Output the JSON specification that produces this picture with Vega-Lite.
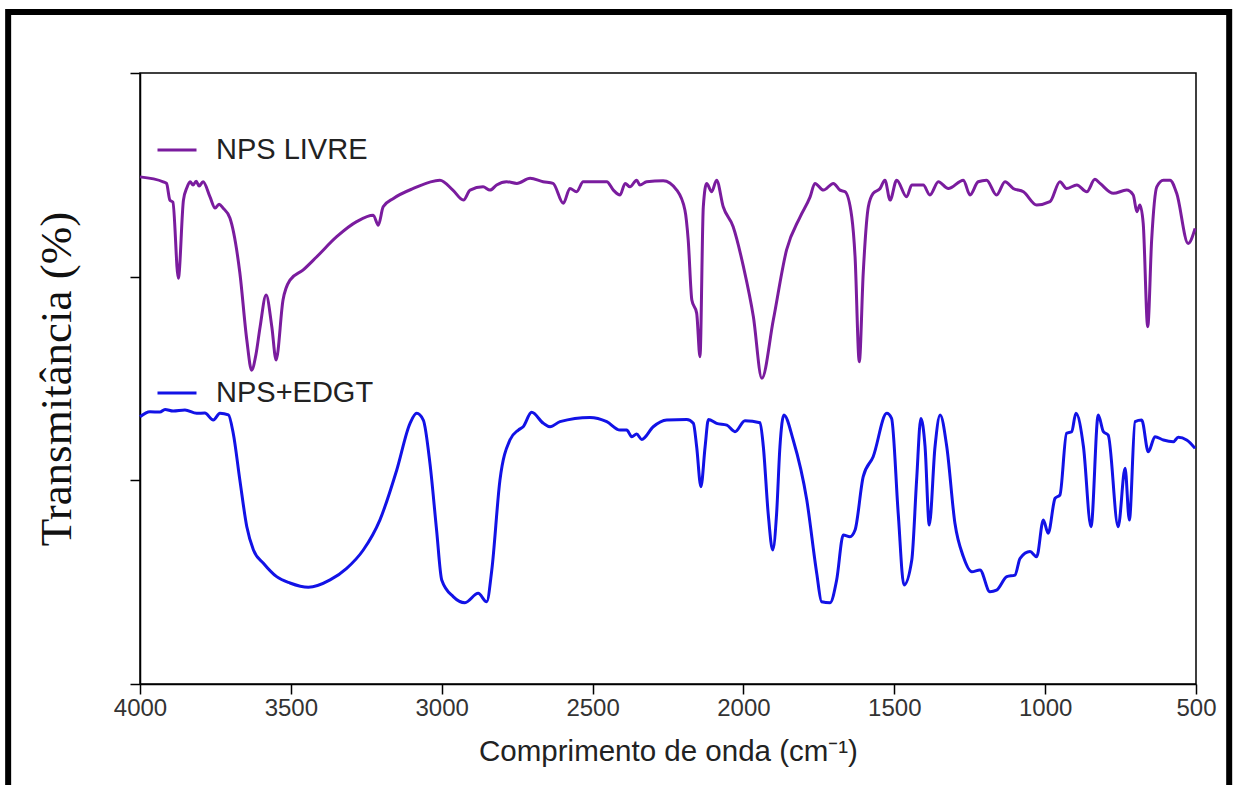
{
  "$schema": "https://vega.github.io/schema/vega-lite/v6.json",
  "width": 1056,
  "height": 611,
  "autosize": {"type": "none"},
  "padding": {"left": 140, "top": 73, "right": 39, "bottom": 101},
  "background": "white",
  "config": {
    "view": {"stroke": "black", "strokeWidth": 1.5},
    "axis": {"domainColor": "black", "domainWidth": 1.5, "tickColor": "black", "tickWidth": 1.5, "grid": false}
  },
  "layer": [
    {
      "data": {"values": [{}]},
      "mark": {"type": "rect", "fillOpacity": 0, "stroke": "black", "strokeWidth": 6, "clip": false},
      "encoding": {
        "x": {"datum": 4437, "type": "quantitative"},
        "x2": {"datum": 390},
        "y": {"datum": 3.30, "type": "quantitative"},
        "y2": {"datum": -0.55}
      }
    },
    {
      "data": {
        "values": [
          {"series": "NPS LIVRE", "wn": 4000, "T": 2.490},
          {"series": "NPS LIVRE", "wn": 3923, "T": 2.466},
          {"series": "NPS LIVRE", "wn": 3912, "T": 2.458},
          {"series": "NPS LIVRE", "wn": 3901, "T": 2.376},
          {"series": "NPS LIVRE", "wn": 3891, "T": 2.366},
          {"series": "NPS LIVRE", "wn": 3873, "T": 1.992},
          {"series": "NPS LIVRE", "wn": 3856, "T": 2.376},
          {"series": "NPS LIVRE", "wn": 3845, "T": 2.435},
          {"series": "NPS LIVRE", "wn": 3834, "T": 2.466},
          {"series": "NPS LIVRE", "wn": 3824, "T": 2.450},
          {"series": "NPS LIVRE", "wn": 3814, "T": 2.469},
          {"series": "NPS LIVRE", "wn": 3804, "T": 2.445},
          {"series": "NPS LIVRE", "wn": 3791, "T": 2.466},
          {"series": "NPS LIVRE", "wn": 3768, "T": 2.392},
          {"series": "NPS LIVRE", "wn": 3751, "T": 2.337},
          {"series": "NPS LIVRE", "wn": 3738, "T": 2.356},
          {"series": "NPS LIVRE", "wn": 3725, "T": 2.337},
          {"series": "NPS LIVRE", "wn": 3702, "T": 2.288},
          {"series": "NPS LIVRE", "wn": 3669, "T": 2.018},
          {"series": "NPS LIVRE", "wn": 3646, "T": 1.689},
          {"series": "NPS LIVRE", "wn": 3630, "T": 1.541},
          {"series": "NPS LIVRE", "wn": 3616, "T": 1.615},
          {"series": "NPS LIVRE", "wn": 3602, "T": 1.753},
          {"series": "NPS LIVRE", "wn": 3582, "T": 1.910},
          {"series": "NPS LIVRE", "wn": 3563, "T": 1.753},
          {"series": "NPS LIVRE", "wn": 3549, "T": 1.591},
          {"series": "NPS LIVRE", "wn": 3526, "T": 1.885},
          {"series": "NPS LIVRE", "wn": 3503, "T": 1.983},
          {"series": "NPS LIVRE", "wn": 3460, "T": 2.032},
          {"series": "NPS LIVRE", "wn": 3414, "T": 2.098},
          {"series": "NPS LIVRE", "wn": 3348, "T": 2.196},
          {"series": "NPS LIVRE", "wn": 3282, "T": 2.270},
          {"series": "NPS LIVRE", "wn": 3227, "T": 2.302},
          {"series": "NPS LIVRE", "wn": 3210, "T": 2.253},
          {"series": "NPS LIVRE", "wn": 3194, "T": 2.343},
          {"series": "NPS LIVRE", "wn": 3160, "T": 2.384},
          {"series": "NPS LIVRE", "wn": 3094, "T": 2.433},
          {"series": "NPS LIVRE", "wn": 3006, "T": 2.474},
          {"series": "NPS LIVRE", "wn": 2963, "T": 2.425},
          {"series": "NPS LIVRE", "wn": 2928, "T": 2.376},
          {"series": "NPS LIVRE", "wn": 2906, "T": 2.425},
          {"series": "NPS LIVRE", "wn": 2863, "T": 2.441},
          {"series": "NPS LIVRE", "wn": 2840, "T": 2.425},
          {"series": "NPS LIVRE", "wn": 2818, "T": 2.450},
          {"series": "NPS LIVRE", "wn": 2785, "T": 2.466},
          {"series": "NPS LIVRE", "wn": 2751, "T": 2.458},
          {"series": "NPS LIVRE", "wn": 2707, "T": 2.483},
          {"series": "NPS LIVRE", "wn": 2664, "T": 2.466},
          {"series": "NPS LIVRE", "wn": 2631, "T": 2.458},
          {"series": "NPS LIVRE", "wn": 2597, "T": 2.360},
          {"series": "NPS LIVRE", "wn": 2575, "T": 2.433},
          {"series": "NPS LIVRE", "wn": 2553, "T": 2.417},
          {"series": "NPS LIVRE", "wn": 2531, "T": 2.466},
          {"series": "NPS LIVRE", "wn": 2453, "T": 2.466},
          {"series": "NPS LIVRE", "wn": 2431, "T": 2.425},
          {"series": "NPS LIVRE", "wn": 2409, "T": 2.401},
          {"series": "NPS LIVRE", "wn": 2392, "T": 2.458},
          {"series": "NPS LIVRE", "wn": 2376, "T": 2.441},
          {"series": "NPS LIVRE", "wn": 2354, "T": 2.474},
          {"series": "NPS LIVRE", "wn": 2343, "T": 2.450},
          {"series": "NPS LIVRE", "wn": 2321, "T": 2.466},
          {"series": "NPS LIVRE", "wn": 2266, "T": 2.471},
          {"series": "NPS LIVRE", "wn": 2221, "T": 2.425},
          {"series": "NPS LIVRE", "wn": 2194, "T": 2.327},
          {"series": "NPS LIVRE", "wn": 2183, "T": 2.180},
          {"series": "NPS LIVRE", "wn": 2171, "T": 1.885},
          {"series": "NPS LIVRE", "wn": 2155, "T": 1.821},
          {"series": "NPS LIVRE", "wn": 2144, "T": 1.607},
          {"series": "NPS LIVRE", "wn": 2133, "T": 2.343},
          {"series": "NPS LIVRE", "wn": 2122, "T": 2.458},
          {"series": "NPS LIVRE", "wn": 2105, "T": 2.417},
          {"series": "NPS LIVRE", "wn": 2089, "T": 2.474},
          {"series": "NPS LIVRE", "wn": 2067, "T": 2.343},
          {"series": "NPS LIVRE", "wn": 2034, "T": 2.245},
          {"series": "NPS LIVRE", "wn": 2000, "T": 2.049},
          {"series": "NPS LIVRE", "wn": 1967, "T": 1.803},
          {"series": "NPS LIVRE", "wn": 1939, "T": 1.501},
          {"series": "NPS LIVRE", "wn": 1901, "T": 1.787},
          {"series": "NPS LIVRE", "wn": 1857, "T": 2.131},
          {"series": "NPS LIVRE", "wn": 1812, "T": 2.294},
          {"series": "NPS LIVRE", "wn": 1779, "T": 2.392},
          {"series": "NPS LIVRE", "wn": 1763, "T": 2.458},
          {"series": "NPS LIVRE", "wn": 1735, "T": 2.425},
          {"series": "NPS LIVRE", "wn": 1702, "T": 2.458},
          {"series": "NPS LIVRE", "wn": 1680, "T": 2.425},
          {"series": "NPS LIVRE", "wn": 1663, "T": 2.417},
          {"series": "NPS LIVRE", "wn": 1641, "T": 2.294},
          {"series": "NPS LIVRE", "wn": 1630, "T": 2.098},
          {"series": "NPS LIVRE", "wn": 1616, "T": 1.582},
          {"series": "NPS LIVRE", "wn": 1603, "T": 2.016},
          {"series": "NPS LIVRE", "wn": 1586, "T": 2.343},
          {"series": "NPS LIVRE", "wn": 1570, "T": 2.409},
          {"series": "NPS LIVRE", "wn": 1547, "T": 2.433},
          {"series": "NPS LIVRE", "wn": 1531, "T": 2.474},
          {"series": "NPS LIVRE", "wn": 1514, "T": 2.376},
          {"series": "NPS LIVRE", "wn": 1492, "T": 2.474},
          {"series": "NPS LIVRE", "wn": 1459, "T": 2.392},
          {"series": "NPS LIVRE", "wn": 1442, "T": 2.450},
          {"series": "NPS LIVRE", "wn": 1404, "T": 2.450},
          {"series": "NPS LIVRE", "wn": 1382, "T": 2.401},
          {"series": "NPS LIVRE", "wn": 1354, "T": 2.466},
          {"series": "NPS LIVRE", "wn": 1321, "T": 2.433},
          {"series": "NPS LIVRE", "wn": 1271, "T": 2.474},
          {"series": "NPS LIVRE", "wn": 1249, "T": 2.401},
          {"series": "NPS LIVRE", "wn": 1222, "T": 2.466},
          {"series": "NPS LIVRE", "wn": 1194, "T": 2.474},
          {"series": "NPS LIVRE", "wn": 1161, "T": 2.401},
          {"series": "NPS LIVRE", "wn": 1133, "T": 2.466},
          {"series": "NPS LIVRE", "wn": 1106, "T": 2.433},
          {"series": "NPS LIVRE", "wn": 1072, "T": 2.417},
          {"series": "NPS LIVRE", "wn": 1028, "T": 2.352},
          {"series": "NPS LIVRE", "wn": 984, "T": 2.368},
          {"series": "NPS LIVRE", "wn": 951, "T": 2.466},
          {"series": "NPS LIVRE", "wn": 929, "T": 2.433},
          {"series": "NPS LIVRE", "wn": 895, "T": 2.450},
          {"series": "NPS LIVRE", "wn": 862, "T": 2.417},
          {"series": "NPS LIVRE", "wn": 835, "T": 2.478},
          {"series": "NPS LIVRE", "wn": 818, "T": 2.458},
          {"series": "NPS LIVRE", "wn": 774, "T": 2.409},
          {"series": "NPS LIVRE", "wn": 730, "T": 2.425},
          {"series": "NPS LIVRE", "wn": 708, "T": 2.401},
          {"series": "NPS LIVRE", "wn": 696, "T": 2.319},
          {"series": "NPS LIVRE", "wn": 686, "T": 2.352},
          {"series": "NPS LIVRE", "wn": 675, "T": 2.262},
          {"series": "NPS LIVRE", "wn": 660, "T": 1.754},
          {"series": "NPS LIVRE", "wn": 647, "T": 2.180},
          {"series": "NPS LIVRE", "wn": 630, "T": 2.441},
          {"series": "NPS LIVRE", "wn": 608, "T": 2.474},
          {"series": "NPS LIVRE", "wn": 586, "T": 2.474},
          {"series": "NPS LIVRE", "wn": 564, "T": 2.409},
          {"series": "NPS LIVRE", "wn": 526, "T": 2.163},
          {"series": "NPS LIVRE", "wn": 503, "T": 2.237},

          {"series": "NPS+EDGT", "wn": 4000, "T": 1.312},
          {"series": "NPS+EDGT", "wn": 3967, "T": 1.337},
          {"series": "NPS+EDGT", "wn": 3934, "T": 1.335},
          {"series": "NPS+EDGT", "wn": 3917, "T": 1.348},
          {"series": "NPS+EDGT", "wn": 3890, "T": 1.340},
          {"series": "NPS+EDGT", "wn": 3851, "T": 1.345},
          {"series": "NPS+EDGT", "wn": 3812, "T": 1.329},
          {"series": "NPS+EDGT", "wn": 3785, "T": 1.330},
          {"series": "NPS+EDGT", "wn": 3757, "T": 1.296},
          {"series": "NPS+EDGT", "wn": 3735, "T": 1.329},
          {"series": "NPS+EDGT", "wn": 3707, "T": 1.321},
          {"series": "NPS+EDGT", "wn": 3691, "T": 1.231},
          {"series": "NPS+EDGT", "wn": 3669, "T": 1.001},
          {"series": "NPS+EDGT", "wn": 3646, "T": 0.772},
          {"series": "NPS+EDGT", "wn": 3624, "T": 0.658},
          {"series": "NPS+EDGT", "wn": 3591, "T": 0.593},
          {"series": "NPS+EDGT", "wn": 3547, "T": 0.527},
          {"series": "NPS+EDGT", "wn": 3503, "T": 0.496},
          {"series": "NPS+EDGT", "wn": 3442, "T": 0.475},
          {"series": "NPS+EDGT", "wn": 3370, "T": 0.511},
          {"series": "NPS+EDGT", "wn": 3315, "T": 0.568},
          {"series": "NPS+EDGT", "wn": 3260, "T": 0.658},
          {"series": "NPS+EDGT", "wn": 3205, "T": 0.805},
          {"series": "NPS+EDGT", "wn": 3149, "T": 1.051},
          {"series": "NPS+EDGT", "wn": 3105, "T": 1.280},
          {"series": "NPS+EDGT", "wn": 3083, "T": 1.329},
          {"series": "NPS+EDGT", "wn": 3061, "T": 1.296},
          {"series": "NPS+EDGT", "wn": 3039, "T": 1.083},
          {"series": "NPS+EDGT", "wn": 3017, "T": 0.756},
          {"series": "NPS+EDGT", "wn": 3000, "T": 0.511},
          {"series": "NPS+EDGT", "wn": 2962, "T": 0.429},
          {"series": "NPS+EDGT", "wn": 2923, "T": 0.399},
          {"series": "NPS+EDGT", "wn": 2879, "T": 0.445},
          {"series": "NPS+EDGT", "wn": 2851, "T": 0.404},
          {"series": "NPS+EDGT", "wn": 2834, "T": 0.560},
          {"series": "NPS+EDGT", "wn": 2807, "T": 1.001},
          {"series": "NPS+EDGT", "wn": 2774, "T": 1.198},
          {"series": "NPS+EDGT", "wn": 2746, "T": 1.247},
          {"series": "NPS+EDGT", "wn": 2730, "T": 1.263},
          {"series": "NPS+EDGT", "wn": 2702, "T": 1.334},
          {"series": "NPS+EDGT", "wn": 2663, "T": 1.280},
          {"series": "NPS+EDGT", "wn": 2641, "T": 1.263},
          {"series": "NPS+EDGT", "wn": 2608, "T": 1.288},
          {"series": "NPS+EDGT", "wn": 2509, "T": 1.309},
          {"series": "NPS+EDGT", "wn": 2453, "T": 1.288},
          {"series": "NPS+EDGT", "wn": 2409, "T": 1.247},
          {"series": "NPS+EDGT", "wn": 2387, "T": 1.247},
          {"series": "NPS+EDGT", "wn": 2370, "T": 1.214},
          {"series": "NPS+EDGT", "wn": 2354, "T": 1.227},
          {"series": "NPS+EDGT", "wn": 2337, "T": 1.201},
          {"series": "NPS+EDGT", "wn": 2299, "T": 1.263},
          {"series": "NPS+EDGT", "wn": 2254, "T": 1.296},
          {"series": "NPS+EDGT", "wn": 2188, "T": 1.299},
          {"series": "NPS+EDGT", "wn": 2166, "T": 1.280},
          {"series": "NPS+EDGT", "wn": 2155, "T": 1.165},
          {"series": "NPS+EDGT", "wn": 2141, "T": 0.969},
          {"series": "NPS+EDGT", "wn": 2127, "T": 1.165},
          {"series": "NPS+EDGT", "wn": 2116, "T": 1.299},
          {"series": "NPS+EDGT", "wn": 2089, "T": 1.280},
          {"series": "NPS+EDGT", "wn": 2055, "T": 1.271},
          {"series": "NPS+EDGT", "wn": 2028, "T": 1.239},
          {"series": "NPS+EDGT", "wn": 1995, "T": 1.293},
          {"series": "NPS+EDGT", "wn": 1945, "T": 1.283},
          {"series": "NPS+EDGT", "wn": 1934, "T": 1.165},
          {"series": "NPS+EDGT", "wn": 1918, "T": 0.838},
          {"series": "NPS+EDGT", "wn": 1903, "T": 0.658},
          {"series": "NPS+EDGT", "wn": 1890, "T": 0.838},
          {"series": "NPS+EDGT", "wn": 1879, "T": 1.165},
          {"series": "NPS+EDGT", "wn": 1866, "T": 1.321},
          {"series": "NPS+EDGT", "wn": 1835, "T": 1.198},
          {"series": "NPS+EDGT", "wn": 1790, "T": 0.903},
          {"series": "NPS+EDGT", "wn": 1757, "T": 0.543},
          {"series": "NPS+EDGT", "wn": 1741, "T": 0.404},
          {"series": "NPS+EDGT", "wn": 1713, "T": 0.399},
          {"series": "NPS+EDGT", "wn": 1691, "T": 0.511},
          {"series": "NPS+EDGT", "wn": 1669, "T": 0.731},
          {"series": "NPS+EDGT", "wn": 1647, "T": 0.723},
          {"series": "NPS+EDGT", "wn": 1630, "T": 0.756},
          {"series": "NPS+EDGT", "wn": 1603, "T": 1.018},
          {"series": "NPS+EDGT", "wn": 1570, "T": 1.116},
          {"series": "NPS+EDGT", "wn": 1525, "T": 1.329},
          {"series": "NPS+EDGT", "wn": 1509, "T": 1.304},
          {"series": "NPS+EDGT", "wn": 1487, "T": 0.838},
          {"series": "NPS+EDGT", "wn": 1468, "T": 0.486},
          {"series": "NPS+EDGT", "wn": 1442, "T": 0.609},
          {"series": "NPS+EDGT", "wn": 1426, "T": 1.001},
          {"series": "NPS+EDGT", "wn": 1412, "T": 1.304},
          {"series": "NPS+EDGT", "wn": 1398, "T": 1.165},
          {"series": "NPS+EDGT", "wn": 1384, "T": 0.781},
          {"series": "NPS+EDGT", "wn": 1365, "T": 1.165},
          {"series": "NPS+EDGT", "wn": 1348, "T": 1.321},
          {"series": "NPS+EDGT", "wn": 1326, "T": 1.165},
          {"series": "NPS+EDGT", "wn": 1299, "T": 0.789},
          {"series": "NPS+EDGT", "wn": 1271, "T": 0.625},
          {"series": "NPS+EDGT", "wn": 1243, "T": 0.551},
          {"series": "NPS+EDGT", "wn": 1216, "T": 0.560},
          {"series": "NPS+EDGT", "wn": 1183, "T": 0.453},
          {"series": "NPS+EDGT", "wn": 1161, "T": 0.461},
          {"series": "NPS+EDGT", "wn": 1127, "T": 0.527},
          {"series": "NPS+EDGT", "wn": 1100, "T": 0.535},
          {"series": "NPS+EDGT", "wn": 1083, "T": 0.617},
          {"series": "NPS+EDGT", "wn": 1050, "T": 0.650},
          {"series": "NPS+EDGT", "wn": 1028, "T": 0.625},
          {"series": "NPS+EDGT", "wn": 1006, "T": 0.805},
          {"series": "NPS+EDGT", "wn": 990, "T": 0.740},
          {"series": "NPS+EDGT", "wn": 967, "T": 0.912},
          {"series": "NPS+EDGT", "wn": 951, "T": 0.928},
          {"series": "NPS+EDGT", "wn": 929, "T": 1.231},
          {"series": "NPS+EDGT", "wn": 912, "T": 1.239},
          {"series": "NPS+EDGT", "wn": 898, "T": 1.329},
          {"series": "NPS+EDGT", "wn": 873, "T": 1.165},
          {"series": "NPS+EDGT", "wn": 848, "T": 0.772},
          {"series": "NPS+EDGT", "wn": 824, "T": 1.321},
          {"series": "NPS+EDGT", "wn": 807, "T": 1.239},
          {"series": "NPS+EDGT", "wn": 791, "T": 1.222},
          {"series": "NPS+EDGT", "wn": 758, "T": 0.772},
          {"series": "NPS+EDGT", "wn": 735, "T": 1.059},
          {"series": "NPS+EDGT", "wn": 721, "T": 0.805},
          {"series": "NPS+EDGT", "wn": 702, "T": 1.288},
          {"series": "NPS+EDGT", "wn": 680, "T": 1.296},
          {"series": "NPS+EDGT", "wn": 658, "T": 1.140},
          {"series": "NPS+EDGT", "wn": 636, "T": 1.214},
          {"series": "NPS+EDGT", "wn": 608, "T": 1.198},
          {"series": "NPS+EDGT", "wn": 575, "T": 1.190},
          {"series": "NPS+EDGT", "wn": 559, "T": 1.211},
          {"series": "NPS+EDGT", "wn": 531, "T": 1.198},
          {"series": "NPS+EDGT", "wn": 503, "T": 1.157}
        ]
      },
      "mark": {"type": "line", "strokeWidth": 3, "interpolate": "monotone"},
      "encoding": {
        "x": {
          "field": "wn", "type": "quantitative",
          "scale": {"domain": [500, 4000], "reverse": true, "nice": false, "zero": false},
          "axis": {
            "values": [4000, 3500, 3000, 2500, 2000, 1500, 1000, 500],
            "format": "d",
            "labelFont": "Liberation Sans", "labelFontSize": 24, "labelColor": "#333333",
            "labelFlush": false, "labelPadding": 2, "tickSize": 10,
            "title": "Comprimento de onda (cm⁻¹)", "titleFont": "Liberation Sans",
            "titleFontSize": 29.5, "titleFontWeight": "normal", "titleColor": "#222222", "titlePadding": 17
          }
        },
        "y": {
          "field": "T", "type": "quantitative",
          "scale": {"domain": [0, 3], "nice": false, "zero": false},
          "axis": {
            "values": [0, 1, 2, 3], "labels": false, "tickSize": 10,
            "title": "Transmitância (%)", "titleFont": "Liberation Serif",
            "titleFontSize": 45, "titleFontWeight": "normal", "titleColor": "#111111", "titlePadding": 50
          }
        },
        "color": {
          "field": "series", "type": "nominal",
          "scale": {"domain": ["NPS LIVRE", "NPS+EDGT"], "range": ["#7A1C9E", "#1212E6"]},
          "legend": {
            "orient": "none", "legendX": 16, "legendY": 56, "title": null,
            "symbolType": "stroke", "symbolSize": 1521, "symbolStrokeWidth": 3,
            "labelFont": "Liberation Sans", "labelFontSize": 29, "labelColor": "#222222",
            "labelOffset": 18, "rowPadding": 207, "padding": 0
          }
        }
      }
    }
  ]
}
